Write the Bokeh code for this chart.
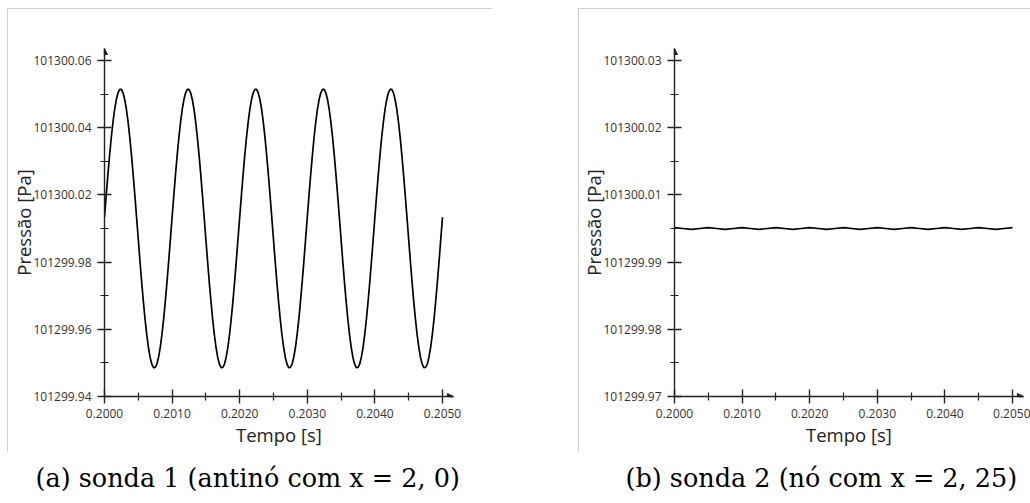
from bokeh.plotting import figure
from bokeh.models import Range1d, FixedTicker, Title, Arrow, NormalHead, InlineStyleSheet
from bokeh.layouts import row
from bokeh.embed import file_html
from bokeh.resources import INLINE

# ---------------- data ----------------
# probe 1 (antinode): time [s]
t1 = [
    0.200000, 0.200025, 0.200050, 0.200075, 0.200100, 0.200125, 0.200150, 0.200175,
    0.200200, 0.200225, 0.200250, 0.200275, 0.200300, 0.200325, 0.200350, 0.200375,
    0.200400, 0.200425, 0.200450, 0.200475, 0.200500, 0.200525, 0.200550, 0.200575,
    0.200600, 0.200625, 0.200650, 0.200675, 0.200700, 0.200725, 0.200750, 0.200775,
    0.200800, 0.200825, 0.200850, 0.200875, 0.200900, 0.200925, 0.200950, 0.200975,
    0.201000, 0.201025, 0.201050, 0.201075, 0.201100, 0.201125, 0.201150, 0.201175,
    0.201200, 0.201225, 0.201250, 0.201275, 0.201300, 0.201325, 0.201350, 0.201375,
    0.201400, 0.201425, 0.201450, 0.201475, 0.201500, 0.201525, 0.201550, 0.201575,
    0.201600, 0.201625, 0.201650, 0.201675, 0.201700, 0.201725, 0.201750, 0.201775,
    0.201800, 0.201825, 0.201850, 0.201875, 0.201900, 0.201925, 0.201950, 0.201975,
    0.202000, 0.202025, 0.202050, 0.202075, 0.202100, 0.202125, 0.202150, 0.202175,
    0.202200, 0.202225, 0.202250, 0.202275, 0.202300, 0.202325, 0.202350, 0.202375,
    0.202400, 0.202425, 0.202450, 0.202475, 0.202500, 0.202525, 0.202550, 0.202575,
    0.202600, 0.202625, 0.202650, 0.202675, 0.202700, 0.202725, 0.202750, 0.202775,
    0.202800, 0.202825, 0.202850, 0.202875, 0.202900, 0.202925, 0.202950, 0.202975,
    0.203000, 0.203025, 0.203050, 0.203075, 0.203100, 0.203125, 0.203150, 0.203175,
    0.203200, 0.203225, 0.203250, 0.203275, 0.203300, 0.203325, 0.203350, 0.203375,
    0.203400, 0.203425, 0.203450, 0.203475, 0.203500, 0.203525, 0.203550, 0.203575,
    0.203600, 0.203625, 0.203650, 0.203675, 0.203700, 0.203725, 0.203750, 0.203775,
    0.203800, 0.203825, 0.203850, 0.203875, 0.203900, 0.203925, 0.203950, 0.203975,
    0.204000, 0.204025, 0.204050, 0.204075, 0.204100, 0.204125, 0.204150, 0.204175,
    0.204200, 0.204225, 0.204250, 0.204275, 0.204300, 0.204325, 0.204350, 0.204375,
    0.204400, 0.204425, 0.204450, 0.204475, 0.204500, 0.204525, 0.204550, 0.204575,
    0.204600, 0.204625, 0.204650, 0.204675, 0.204700, 0.204725, 0.204750, 0.204775,
    0.204800, 0.204825, 0.204850, 0.204875, 0.204900, 0.204925, 0.204950, 0.204975,
    0.205000,
]
# probe 1 pressure [Pa]
p1 = [
    101300.00333, 101300.00976, 101300.01595, 101300.02175, 101300.02701, 101300.03160, 101300.03542, 101300.03837,
    101300.04037, 101300.04138, 101300.04137, 101300.04034, 101300.03831, 101300.03535, 101300.03152, 101300.02690,
    101300.02162, 101300.01582, 101300.00962, 101300.00318, 101299.99667, 101299.99024, 101299.98405, 101299.97825,
    101299.97299, 101299.96840, 101299.96458, 101299.96163, 101299.95963, 101299.95862, 101299.95863, 101299.95966,
    101299.96169, 101299.96465, 101299.96848, 101299.97310, 101299.97838, 101299.98418, 101299.99038, 101299.99682,
    101300.00333, 101300.00976, 101300.01595, 101300.02175, 101300.02701, 101300.03160, 101300.03542, 101300.03837,
    101300.04037, 101300.04138, 101300.04137, 101300.04034, 101300.03831, 101300.03535, 101300.03152, 101300.02690,
    101300.02162, 101300.01582, 101300.00962, 101300.00318, 101299.99667, 101299.99024, 101299.98405, 101299.97825,
    101299.97299, 101299.96840, 101299.96458, 101299.96163, 101299.95963, 101299.95862, 101299.95863, 101299.95966,
    101299.96169, 101299.96465, 101299.96848, 101299.97310, 101299.97838, 101299.98418, 101299.99038, 101299.99682,
    101300.00333, 101300.00976, 101300.01595, 101300.02175, 101300.02701, 101300.03160, 101300.03542, 101300.03837,
    101300.04037, 101300.04138, 101300.04137, 101300.04034, 101300.03831, 101300.03535, 101300.03152, 101300.02690,
    101300.02162, 101300.01582, 101300.00962, 101300.00318, 101299.99667, 101299.99024, 101299.98405, 101299.97825,
    101299.97299, 101299.96840, 101299.96458, 101299.96163, 101299.95963, 101299.95862, 101299.95863, 101299.95966,
    101299.96169, 101299.96465, 101299.96848, 101299.97310, 101299.97838, 101299.98418, 101299.99038, 101299.99682,
    101300.00333, 101300.00976, 101300.01595, 101300.02175, 101300.02701, 101300.03160, 101300.03542, 101300.03837,
    101300.04037, 101300.04138, 101300.04137, 101300.04034, 101300.03831, 101300.03535, 101300.03152, 101300.02690,
    101300.02162, 101300.01582, 101300.00962, 101300.00318, 101299.99667, 101299.99024, 101299.98405, 101299.97825,
    101299.97299, 101299.96840, 101299.96458, 101299.96163, 101299.95963, 101299.95862, 101299.95863, 101299.95966,
    101299.96169, 101299.96465, 101299.96848, 101299.97310, 101299.97838, 101299.98418, 101299.99038, 101299.99682,
    101300.00333, 101300.00976, 101300.01595, 101300.02175, 101300.02701, 101300.03160, 101300.03542, 101300.03837,
    101300.04037, 101300.04138, 101300.04137, 101300.04034, 101300.03831, 101300.03535, 101300.03152, 101300.02690,
    101300.02162, 101300.01582, 101300.00962, 101300.00318, 101299.99667, 101299.99024, 101299.98405, 101299.97825,
    101299.97299, 101299.96840, 101299.96458, 101299.96163, 101299.95963, 101299.95862, 101299.95863, 101299.95966,
    101299.96169, 101299.96465, 101299.96848, 101299.97310, 101299.97838, 101299.98418, 101299.99038, 101299.99682,
    101300.00333,
]

# probe 2 (node): time [s]
t2 = [
    0.200000, 0.200125, 0.200250, 0.200375, 0.200500, 0.200625, 0.200750, 0.200875,
    0.201000, 0.201125, 0.201250, 0.201375, 0.201500, 0.201625, 0.201750, 0.201875,
    0.202000, 0.202125, 0.202250, 0.202375, 0.202500, 0.202625, 0.202750, 0.202875,
    0.203000, 0.203125, 0.203250, 0.203375, 0.203500, 0.203625, 0.203750, 0.203875,
    0.204000, 0.204125, 0.204250, 0.204375, 0.204500, 0.204625, 0.204750, 0.204875,
    0.205000,
]
# probe 2 pressure [Pa]
p2 = [
    101300.00012, 101300.00000, 101299.99988, 101300.00000, 101300.00012, 101300.00000, 101299.99988, 101300.00000,
    101300.00012, 101300.00000, 101299.99988, 101300.00000, 101300.00012, 101300.00000, 101299.99988, 101300.00000,
    101300.00012, 101300.00000, 101299.99988, 101300.00000, 101300.00012, 101300.00000, 101299.99988, 101300.00000,
    101300.00012, 101300.00000, 101299.99988, 101300.00000, 101300.00012, 101300.00000, 101299.99988, 101300.00000,
    101300.00012, 101300.00000, 101299.99988, 101300.00000, 101300.00012, 101300.00000, 101299.99988, 101300.00000,
    101300.00012,
]

# axes
x_ticks = [0.2000, 0.2010, 0.2020, 0.2030, 0.2040, 0.2050]
x_tick_labels = ["0.2000", "0.2010", "0.2020", "0.2030", "0.2040", "0.2050"]
x_minor = [0.2005, 0.2015, 0.2025, 0.2035, 0.2045]

y1_ticks = [101299.95, 101299.97, 101299.99, 101300.01, 101300.03, 101300.05]
y1_tick_labels = ["101299.94", "101299.96", "101299.98", "101300.02", "101300.04", "101300.06"]
y1_minor = [101299.96, 101299.98, 101300.00, 101300.02, 101300.04]

y2_ticks = [101299.975, 101299.985, 101299.995, 101300.005, 101300.015, 101300.025]
y2_tick_labels = ["101299.97", "101299.98", "101299.99", "101300.01", "101300.02", "101300.03"]
y2_minor = [101299.98, 101299.99, 101300.00, 101300.01, 101300.02]

x_label = "Tempo [s]"
y_label = "Pressão [Pa]"
caption_a = "(a) sonda 1 (antinó com x = 2, 0)"
caption_b = "(b) sonda 2 (nó com x = 2, 25)"

X_START, X_END = 0.2, 0.205163
Y1_START, Y1_END = 101299.95, 101300.05356
Y2_START, Y2_END = 101299.975, 101300.02678

AX = "#222222"
SANS = "Open Sans"


def frame_css(left, right):
    return InlineStyleSheet(css=(
        ":host { position: relative; }\n"
        ":host::after { content: ''; position: absolute; left: %dpx; top: 8px; "
        "right: %dpx; height: 444px; border-top: 1px solid #d0d0d0; "
        "border-left: 1px solid #d0d0d0; pointer-events: none; z-index: 5; }" % (left, right)))


def panel(t, pv, y0, y1, yt, ytl, ym, border_left, box_left, box_right, caption, cap_offset):
    p = figure(width=515, height=503, output_backend="svg", toolbar_location=None,
               x_range=Range1d(X_START, X_END), y_range=Range1d(y0, y1),
               min_border_left=border_left, min_border_right=515 - border_left - 349,
               min_border_top=48, min_border_bottom=106,
               stylesheets=[frame_css(box_left, box_right)])
    p.outline_line_color = None
    p.background_fill_color = "white"
    p.border_fill_color = "white"
    p.xgrid.visible = False
    p.ygrid.visible = False

    p.line(t, pv, line_color="black", line_width=1.7)

    p.xaxis.ticker = FixedTicker(ticks=x_ticks, minor_ticks=x_minor)
    p.xaxis.major_label_overrides = dict(zip(x_ticks, x_tick_labels))
    p.yaxis.ticker = FixedTicker(ticks=yt, minor_ticks=ym)
    p.yaxis.major_label_overrides = dict(zip(yt, ytl))

    for ax in (p.xaxis[0], p.yaxis[0]):
        ax.axis_line_color = AX
        ax.axis_line_width = 1.4
        ax.major_tick_line_color = AX
        ax.major_tick_line_width = 1.4
        ax.minor_tick_line_color = AX
        ax.minor_tick_line_width = 1.2
        ax.major_tick_in = 7
        ax.major_tick_out = 7
        ax.minor_tick_in = 4
        ax.minor_tick_out = 4
        ax.major_label_text_font = SANS
        ax.major_label_text_font_size = "12px"
        ax.major_label_text_color = "#333333"
        ax.axis_label_text_font = SANS
        ax.axis_label_text_font_size = "18.5px"
        ax.axis_label_text_font_style = "normal"
        ax.axis_label_text_color = "#222222"

    p.xaxis.axis_label = x_label
    p.yaxis.axis_label = y_label
    p.xaxis.major_label_standoff = 5
    p.yaxis.major_label_standoff = 6
    p.xaxis.axis_label_standoff = 1
    p.yaxis.axis_label_standoff = -6

    # arrow heads at the ends of the axes
    p.add_layout(Arrow(end=NormalHead(size=6, fill_color=AX, line_color=AX),
                       x_start=X_START, y_start=y1 - (y1 - y0) * 0.02,
                       x_end=X_START, y_end=y1, line_color=AX, line_width=1.4))
    p.add_layout(Arrow(end=NormalHead(size=6, fill_color=AX, line_color=AX),
                       x_start=X_END - (X_END - X_START) * 0.02, y_start=y0,
                       x_end=X_END, y_end=y0, line_color=AX, line_width=1.4))

    # sub-figure caption
    p.add_layout(Title(text=caption, align="left", offset=cap_offset,
                       text_font="DejaVu Serif", text_font_size="25.5px",
                       text_font_style="normal", text_color="black", standoff=22),
                 "below")
    return p


pa = panel(t1, p1, Y1_START, Y1_END, y1_ticks, y1_tick_labels, y1_minor, 104, 7, 23, caption_a, -69)
pb = panel(t2, p2, Y2_START, Y2_END, y2_ticks, y2_tick_labels, y2_minor, 159, 63, 0, caption_b, -49)

layout = row(pa, pb, spacing=0)
open("out.html", "w").write(file_html(layout, INLINE))
